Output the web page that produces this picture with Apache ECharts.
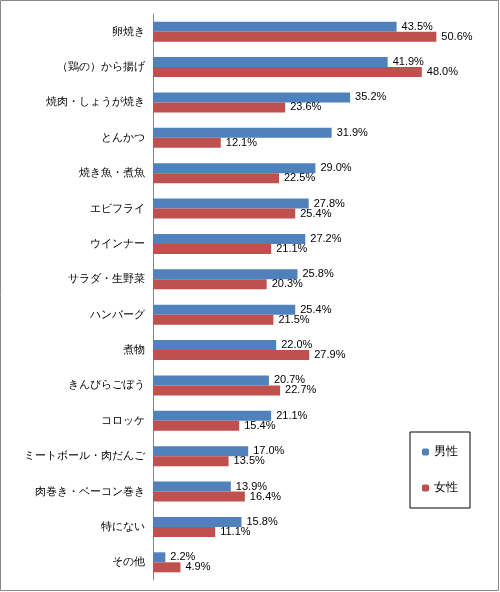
<!DOCTYPE html><html><head><meta charset="utf-8"><script src="https://cdn.jsdelivr.net/npm/echarts@6/dist/echarts.min.js"></script></head><body style="margin:0"><div id="c" style="width:500px;height:592px"></div><script>
const categories=["卵焼き","（鶏の）から揚げ","焼肉・しょうが焼き","とんかつ","焼き魚・煮魚","エビフライ","ウインナー","サラダ・生野菜","ハンバーグ","煮物","きんぴらごぼう","コロッケ","ミートボール・肉だんご","肉巻き・ベーコン巻き","特にない","その他"];
const male=[43.5,41.9,35.2,31.9,29.0,27.8,27.2,25.8,25.4,22.0,20.7,21.1,17.0,13.9,15.8,2.2];
const female=[50.6,48.0,23.6,12.1,22.5,25.4,21.1,20.3,21.5,27.9,22.7,15.4,13.5,16.4,11.1,4.9];
const ch=echarts.init(document.getElementById('c'));
const lab={show:true,position:'right',formatter:p=>p.value.toFixed(1)+'%',fontSize:11,color:'#000',fontFamily:'Liberation Sans'};
ch.setOption({animation:false,
graphic:[{type:'rect',shape:{x:0.5,y:0.5,width:498,height:590},style:{fill:'none',stroke:'#888'}}],
grid:{left:153,right:11,top:14,bottom:12},
legend:{orient:'vertical',left:410,top:432,itemWidth:7,itemHeight:7,itemGap:24,padding:[14,12,14,12],borderColor:'#000',borderWidth:1,textStyle:{fontSize:12,color:'#000'},data:['男性','女性']},
xAxis:{type:'value',min:0,max:60,show:false},
yAxis:{type:'category',inverse:true,data:categories,axisTick:{show:false},axisLine:{lineStyle:{color:'#888'}},axisLabel:{color:'#000',fontSize:11,margin:8}},
series:[{name:'男性',type:'bar',data:male,barWidth:10,barGap:'0%',itemStyle:{color:'#4F81BD'},label:lab},
{name:'女性',type:'bar',data:female,barWidth:10,itemStyle:{color:'#C0504D'},label:lab}]});
</script></body></html>
